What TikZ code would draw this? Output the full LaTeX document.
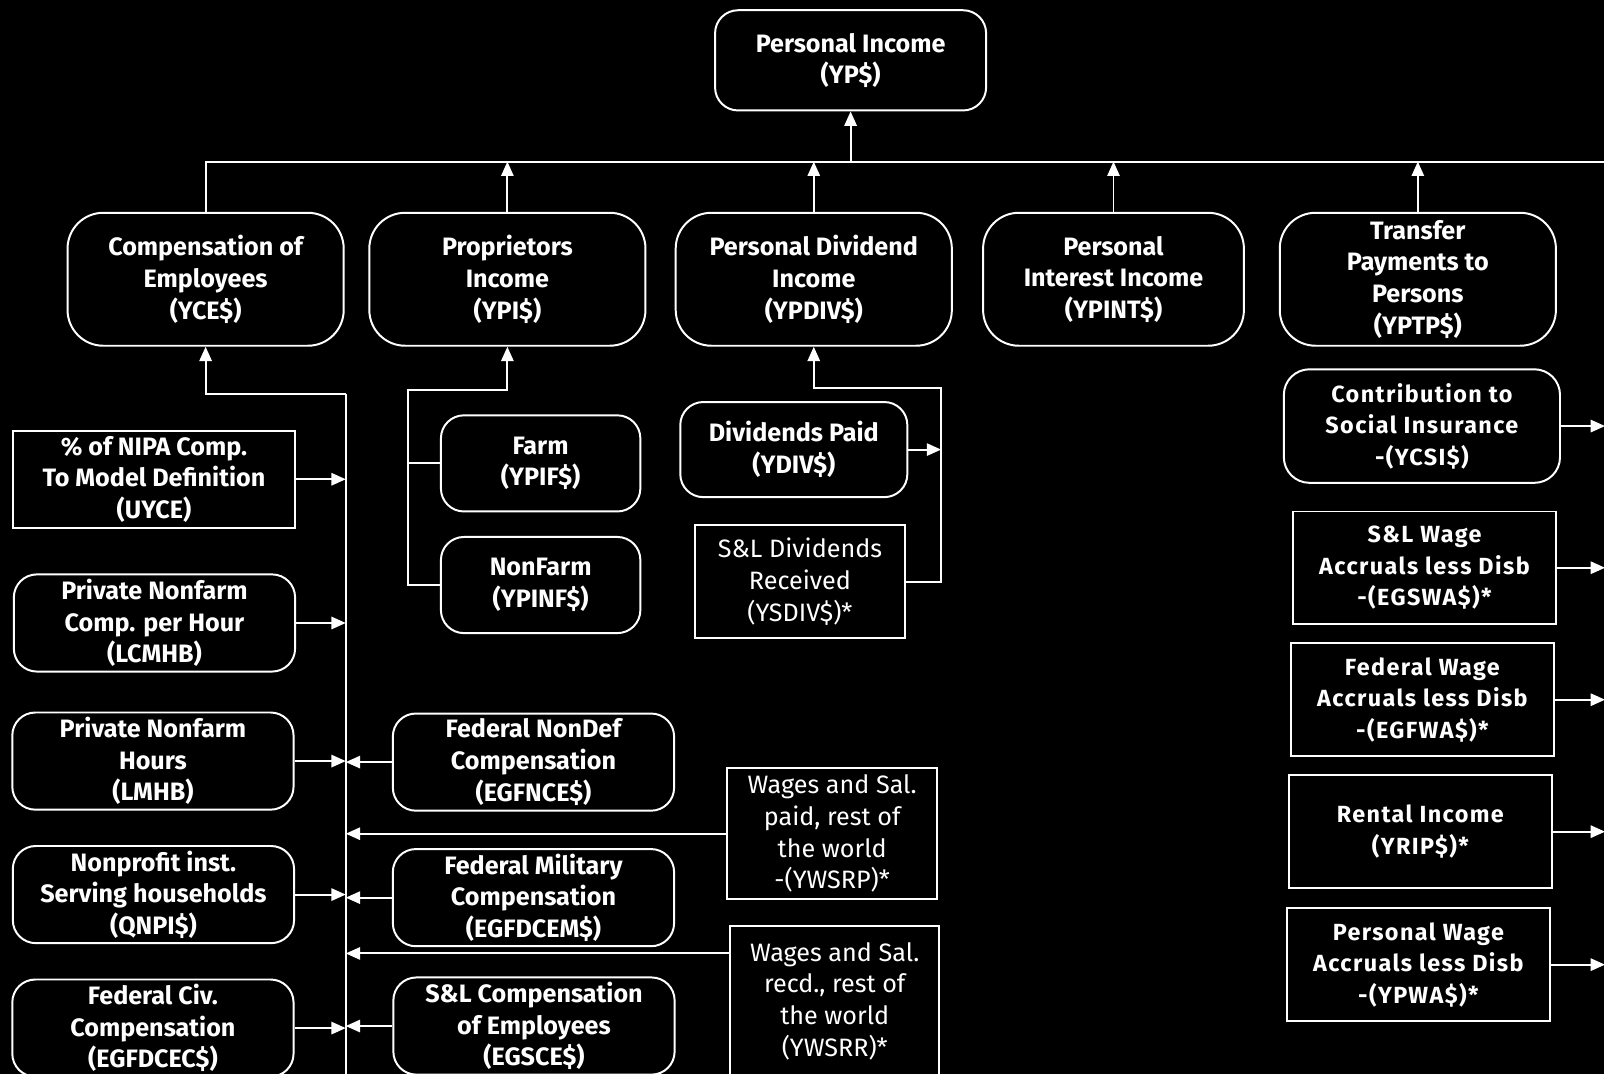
\documentclass[tikz,border=0pt]{standalone}
\usepackage{fontspec}
\setmainfont{Fira Sans}
\newfontfamily\wideface[LetterSpace=6]{Fira Sans}
\usetikzlibrary{shapes,arrows.meta,positioning}

\begin{document}
\begin{tikzpicture}[x=0.02cm, y=-0.02cm, thick, white]
    \tikzstyle{block} = [rectangle, draw=white, text=white, align=center, rounded corners=0.45cm, inner sep=1pt, line width=1.1pt, font=\fontsize{14}{17.6}\selectfont\bfseries, minimum width=5.5cm, minimum height=1.9cm]
    \tikzstyle{topblock} = [block, rounded corners=0.7cm, minimum width=5.4cm, minimum height=2.6cm]
    \tikzstyle{rectblock} = [block, rounded corners=0pt]
    \tikzstyle{note} = [rectblock, font=\fontsize{14}{17.6}\selectfont]
    \tikzstyle{wideblock} = [rectblock, font=\fontsize{13}{17.6}\selectfont\wideface\bfseries, minimum width=5.14cm, minimum height=2.2cm]
    \tikzstyle{line} = [draw=white, line width=1.1pt, -{Triangle[length=0.28cm, width=0.24cm]}]
    \tikzstyle{link} = [draw=white, line width=1.1pt]

    \fill [black] (0,0) rectangle (1568,1050);
    \useasboundingbox (0,0) rectangle (1568,1050);

    \node [block, minimum width=5.3cm, minimum height=1.96cm] (YP) at (831.5,59) {Personal Income\\(YP\$)};

    \node [topblock] (YCE) at (201,273) {Compensation of\\Employees\\(YCE\$)};
    \node [topblock] (YPI) at (496,273) {Proprietors\\Income\\(YPI\$)};
    \node [topblock] (YPDIV) at (795.5,273) {Personal Dividend\\Income\\(YPDIV\$)};
    \node [topblock, minimum width=5.1cm] (YPINT) at (1088.5,273) {Personal\\Interest Income\\(YPINT\$)};
    \node [topblock] (YPTP) at (1386,273) {Transfer\\Payments to\\Persons\\(YPTP\$)};

    \node [rectblock] (UYCE) at (150.5,468.5) {\% of NIPA Comp.\\To Model Definition\\(UYCE)};
    \node [block] (LCMHB) at (151,609) {Private Nonfarm\\Comp. per Hour\\(LCMHB)};
    \node [block] (LMHB) at (149.5,744) {Private Nonfarm\\Hours\\(LMHB)};
    \node [block] (QNPI) at (150,874.5) {Nonprofit inst.\\Serving households\\(QNPI\$)};
    \node [block] (EGFDCEC) at (149.5,1005) {Federal Civ.\\Compensation\\(EGFDCEC\$)};

    \node [block] (EGFNCE) at (521.5,745) {Federal NonDef\\Compensation\\(EGFNCE\$)};
    \node [block] (EGFDCEM) at (521.5,877.5) {Federal Military\\Compensation\\(EGFDCEM\$)};
    \node [block] (EGSCE) at (522,1003) {S\&L Compensation\\of Employees\\(EGSCE\$)};
    \node [note, minimum width=4.1cm, minimum height=2.56cm] (YWSRP) at (813.5,815) {Wages and Sal.\\paid, rest of\\the world\\-(YWSRP)*};
    \node [note, minimum width=4.08cm, minimum height=2.94cm] (YWSRR) at (816,978.5) {Wages and Sal.\\recd., rest of\\the world\\(YWSRR)*};

    \node [block, minimum width=3.9cm, minimum height=1.88cm] (YPIF) at (528.5,453) {Farm\\(YPIF\$)};
    \node [block, minimum width=3.9cm, minimum height=1.88cm, below=0.46cm of YPIF] (YPINF) {NonFarm\\(YPINF\$)};

    \node [block, minimum width=4.44cm, minimum height=1.86cm] (YDIV) at (776,439.5) {Dividends Paid\\(YDIV\$)};
    \node [note, minimum width=4.12cm, minimum height=2.22cm] (YSDIV) at (782,568.5) {S\&L Dividends\\Received\\(YSDIV\$)*};

    \node [wideblock, rounded corners=0.5cm, minimum width=5.4cm, minimum height=2.22cm] (YCSI) at (1390,416.5) {Contribution to\\Social Insurance\\-(YCSI\$)};
    \node [wideblock] (EGSWA) at (1392.5,555) {S\&L Wage\\Accruals less Disb\\-(EGSWA\$)*};
    \node [wideblock] (EGFWA) at (1390.5,684) {Federal Wage\\Accruals less Disb\\-(EGFWA\$)*};
    \node [wideblock] (YRIP) at (1388.5,813) {Rental Income\\(YRIP\$)*};
    \node [wideblock] (YPWA) at (1386.5,943) {Personal Wage\\Accruals less Disb\\-(YPWA\$)*};

    \coordinate (bus) at (1600,158);
    \coordinate (spine) at (338,385);
    \coordinate (spineEnd) at (338,1080);
    \coordinate (propJ) at (399,381);
    \coordinate (divJ) at (920,379);
    \coordinate (edge) at (1569,0);

    \path [link] (YCE.north) |- (bus);
    \path [line] (YP.south |- bus) -- (YP.south);
    \foreach \n in {YPI, YPDIV, YPINT, YPTP}
        \path [line] (\n.north) -- (\n.north |- bus);

    \path [link] (spine) -- (spineEnd);
    \path [line] (spine) -| (YCE.south);
    \foreach \n in {UYCE, LCMHB, LMHB, QNPI, EGFDCEC}
        \path [line] (\n.east) -- (\n.east -| spine);
    \foreach \n in {EGFNCE, YWSRP, EGFDCEM, EGSCE}
        \path [line] (\n.west) -- (\n.west -| spine);
    \path [line] ([yshift=-0.56cm]YWSRR.north west) -- ([yshift=-0.56cm]YWSRR.north west -| spine);

    \path [line] (YPINF.west) -| (propJ) -| (YPI.south);
    \path [link] (YPIF.west) -- (YPIF.west -| propJ);

    \path [line] (YSDIV.east) -| (divJ) -| (YPDIV.south);
    \path [line] (YDIV.east) -- (YDIV.east -| divJ);

    \foreach \n in {YCSI, EGSWA, EGFWA, YRIP, YPWA}
        \path [line] (\n.east) -- (\n.east -| edge);
\end{tikzpicture}
\end{document}
